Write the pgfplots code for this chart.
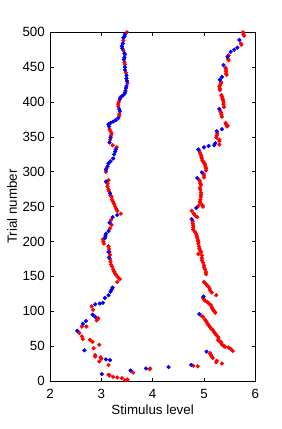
\documentclass[border=0pt]{standalone}
\usepackage{fontspec}
\setmainfont{Liberation Sans}
\usepackage{pgfplots}
\pgfplotsset{compat=1.18}
\definecolor{mred}{rgb}{1,0,0}
\definecolor{mblue}{rgb}{0,0,1}
\begin{document}
\begin{tikzpicture}
\useasboundingbox (-50bp,-48bp) rectangle (232bp,381bp);
\begin{axis}[
  at={(0,0)}, anchor=south west,
  scale only axis, width=205.3bp, height=348.7bp,
  xmin=2, xmax=6, ymin=0, ymax=500,
  xtick={2,3,4,5,6}, ytick={0,50,...,500},
  tick align=inside, major tick length=3.5bp,
  axis line style={line width=0.7bp},
  every tick/.style={line width=0.6bp, black},
  tick label style={font=\fontsize{13.4}{15}\selectfont},
  label style={font=\fontsize{13.4}{15}\selectfont},
  /pgf/number format/assume math mode=true,
  xticklabel style={anchor=center, yshift=-12.5bp},
  yticklabel style={anchor=east, inner sep=0pt, xshift=-5bp},
  xlabel={Stimulus level}, ylabel={Trial number},
  x label style={at={(axis description cs:0.5,-0.0832)}, anchor=center},
  y label style={at={(axis description cs:-0.185,0.5)}, anchor=center, rotate=0},
  clip=false,
]
% red points
\addplot[only marks, mark=*, mark size=1.9bp, mred, mark options={draw=none, fill=mred}] coordinates {
(3.50,500)(3.43,488)(3.43,474)(3.45,457)(3.46,454)(3.48,442)(3.51,427)(3.37,407)(3.34,400)(3.33,397)(3.33,394)
(3.35,383)(3.35,380)(3.16,361)(3.18,358)(3.20,355)(3.19,352)(3.17,346)(3.22,338)(3.30,335)(3.10,305)(3.09,300)
(3.14,288)(3.12,283)(3.12,279)(3.14,275)(3.15,272)(3.18,266)(3.20,264)(3.21,260)(3.23,257)(3.25,254)(3.27,250)
(3.29,247)(3.31,244)(3.38,240)(3.19,231)(3.20,224)(3.17,219)(3.03,203)(3.04,200)(3.05,197)(3.14,193)(3.15,189)
(3.16,185)(3.17,181)(3.17,175)(3.18,171)(3.19,167)(3.21,164)(3.23,160)(3.25,157)(3.27,154)(3.29,152)(3.32,149)
(3.36,146)(3.31,142)(2.81,107)(2.84,102)(2.94,90)(2.93,89)(2.91,87)(2.71,78)(2.62,78)(2.57,69)(2.62,64)(2.64,60)
(2.78,59)(2.83,56)(2.96,52)(2.85,47)(2.88,37)(2.88,35)(2.99,34)(3.00,32)(2.96,28)(3.14,23)(3.14,9)(3.16,8)
(3.23,6)(3.31,5)(3.40,4)(3.51,2)(3.46,1)(3.62,12)(3.94,17)(3.95,18)(4.79,22)(4.88,21)
(5.76,500)(5.77,497)(5.78,495)(5.72,484)(5.73,482)(5.48,467)(5.47,462)(5.48,460)(5.42,449)(5.43,447)(5.43,444)
(5.43,441)(5.44,439)(5.33,429)(5.33,427)(5.31,424)(5.30,422)(5.31,419)(5.31,417)(5.34,410)(5.35,408)(5.36,405)
(5.37,403)(5.38,400)(5.38,397)(5.39,393)(5.32,387)(5.33,385)(5.34,382)(5.35,379)(5.42,370)(5.43,368)(5.46,366)
(5.45,365)(5.26,355)(5.25,352)(5.24,349)(5.30,346)(5.30,344)(5.30,339)(4.91,330)(4.92,327)(4.94,324)(4.95,321)
(4.96,319)(4.97,316)(4.99,314)(5.01,312)(5.02,310)(5.03,307)(5.04,305)(5.04,302)(4.99,297)(5.00,295)(5.00,292)
(4.91,288)(4.92,286)(4.93,283)(4.94,281)(4.92,277)(4.93,274)(4.94,270)(4.94,267)(4.94,264)(4.93,260)(4.92,257)
(4.93,255)(4.97,252)(4.98,250)(4.89,251)(4.76,244)(4.80,240)(4.83,237)(4.87,235)(4.78,229)(4.78,226)(4.79,223)
(4.79,220)(4.79,217)(4.82,214)(4.85,211)(4.86,208)(4.87,205)(4.88,202)(4.89,200)(4.89,197)(4.90,193)(4.91,190)
(4.93,187)(4.94,185)(4.89,182)(4.96,180)(4.96,176)(4.96,173)(4.98,170)(5.00,166)(5.00,163)(5.02,160)(5.04,156)
(5.04,153)(5.00,142)(5.04,139)(5.06,137)(5.09,135)(5.11,132)(5.12,130)(5.15,127)(5.24,123)(4.98,119)(5.00,117)
(5.02,115)(5.07,113)(5.10,111)(5.13,109)(5.15,106)(5.16,104)(5.18,102)(5.20,100)(5.22,98)(4.94,94)(4.98,92)
(5.02,88)(5.05,85)(5.07,82)(5.09,80)(5.12,77)(5.14,75)(5.17,73)(5.20,70)(5.22,68)(5.24,66)(5.28,63)(5.28,60)
(5.28,58)(5.33,56)(5.34,54)(5.35,52)(5.39,50)(5.41,49)(5.48,48)(5.52,46)(5.56,43)(5.12,40)(5.13,38)(5.15,35)
(5.17,33)(5.25,29)(5.24,27)(5.35,25)
};
% blue points
\addplot[only marks, mark=*, mark size=1.9bp, mblue, mark options={draw=none, fill=mblue}] coordinates {
(3.46,497)(3.45,494)(3.43,492)(3.42,484)(3.40,480)(3.41,477)(3.45,470)(3.46,468)(3.45,464)(3.44,461)(3.46,450)
(3.46,446)(3.49,438)(3.49,434)(3.50,430)(3.49,423)(3.48,420)(3.47,416)(3.46,413)(3.43,410)(3.40,408)(3.36,404)
(3.35,390)(3.36,387)(3.33,377)(3.28,374)(3.23,372)(3.18,370)(3.14,368)(3.15,365)(3.18,349)(3.16,342)(3.28,332)
(3.27,329)(3.25,325)(3.23,319)(3.18,315)(3.14,312)(3.12,308)(3.09,303)(3.09,286)(3.17,269)(3.31,238)(3.22,235)
(3.16,227)(3.14,215)(3.09,211)(3.08,208)(3.07,205)(3.14,185)(3.15,177)(3.22,134)(3.20,131)(3.18,128)(3.14,123)
(3.07,119)(3.03,112)(2.97,111)(2.88,110)(2.83,95)(2.88,92)(2.70,86)(2.64,82)(2.53,72)(2.67,44)(3.09,31)(3.17,30)
(3.01,10)(3.57,15)(3.87,18)(4.31,20)(4.75,23)
(5.69,489)(5.65,478)(5.59,475)(5.52,472)(5.46,465)(5.38,453)(5.35,436)(5.31,432)(5.30,390)(5.35,361)(5.25,358)
(5.22,341)(5.20,338)(5.09,337)(5.00,335)(4.89,332)(4.96,299)(4.87,291)(4.85,248)(4.76,232)(4.99,121)(4.91,96)
(5.05,42)
};
\end{axis}
\end{tikzpicture}
\end{document}
